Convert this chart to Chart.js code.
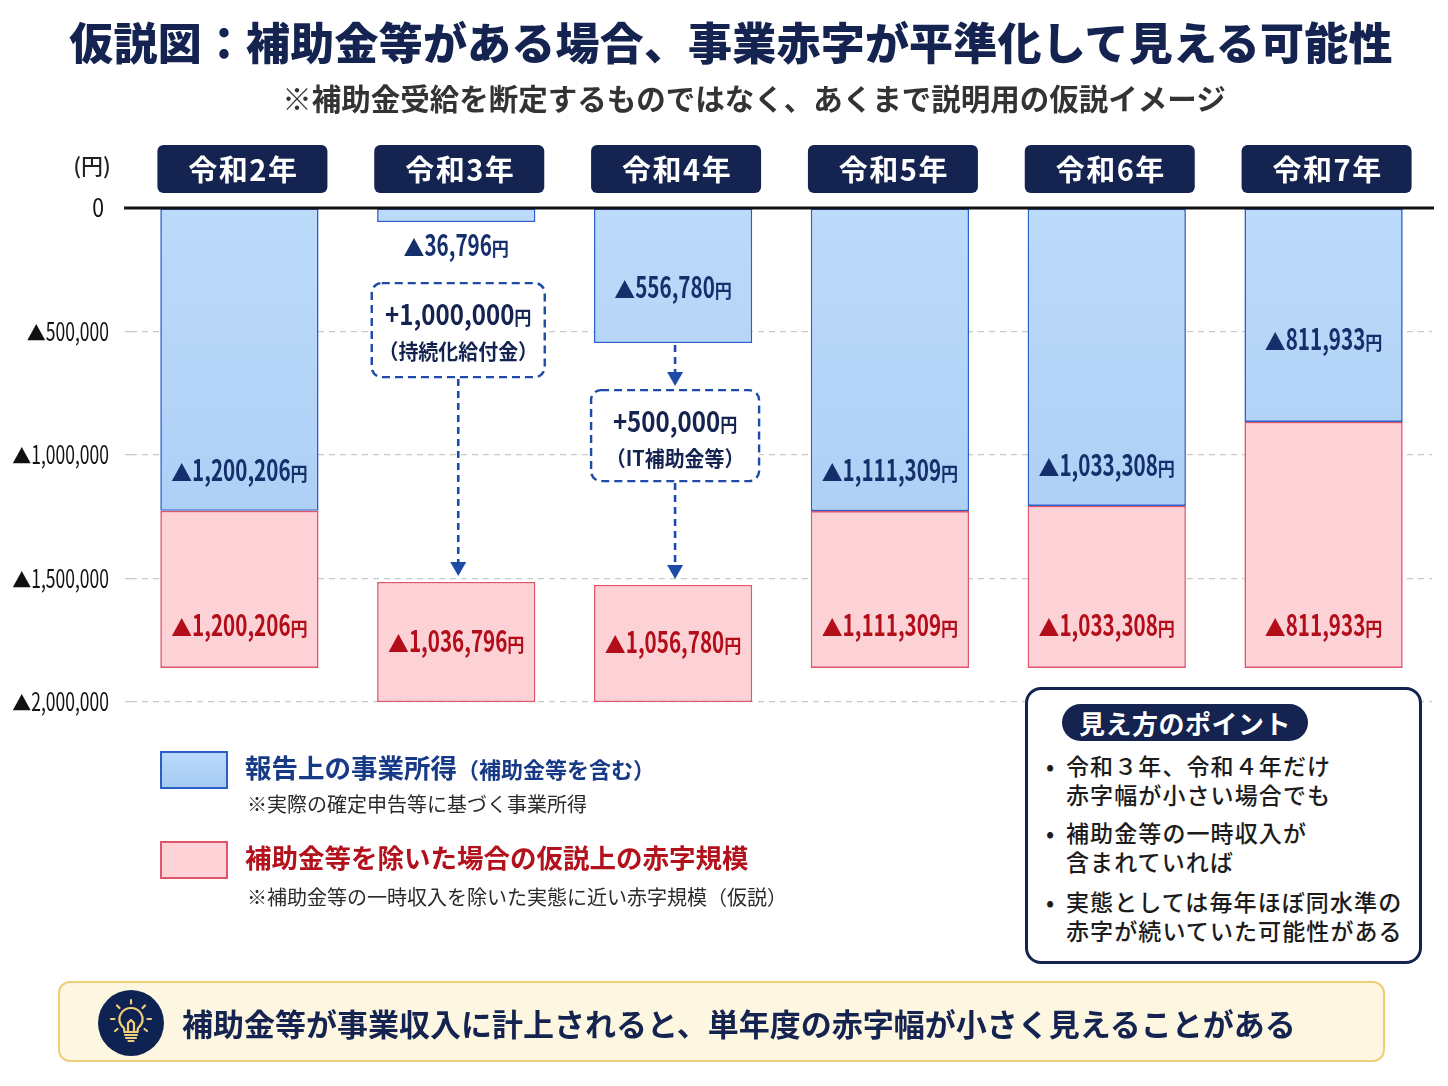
<!DOCTYPE html>
<html lang="ja">
<head>
<meta charset="utf-8">
<title>仮説図：補助金等がある場合、事業赤字が平準化して見える可能性</title>
<script src="https://cdn.jsdelivr.net/npm/chart.js@4.4.1/dist/chart.umd.min.js"></script>
<style>
html, body { margin: 0; padding: 0; background: #fff; }
body { width: 1448px; height: 1086px; position: relative; overflow: hidden;
       font-family: "Noto Sans CJK JP", "Noto Sans", sans-serif; }
#chart { position: absolute; left: 0; top: 0; }
.abs { position: absolute; white-space: nowrap; }
#title { left: 0; width: 1462px; text-align: center; top: 10px; font-size: 44px; font-weight: 900;
         color: #14234f; line-height: 62px; letter-spacing: 0.2px; }
#subtitle { left: 0; width: 1508px; text-align: center; top: 76px; font-size: 29.5px; font-weight: 700;
            color: #333; line-height: 42px; }
.swatch { position: absolute; left: 160px; width: 64px; height: 34px; }
#swBlue { top: 751px; background: linear-gradient(#b9d9fa, #a6cbf4); border: 2px solid #2b5fc6; }
#swRed { top: 841px; background: #fdd3d8; border: 2px solid #e0566a; }
.legMain { left: 245px; font-size: 26.5px; font-weight: 700; line-height: 36px; }
.legSub { font-size: 22px; }
.legNote { left: 247px; font-size: 20px; color: #2a2a2a; line-height: 28px; }
#points { left: 1025px; top: 687px; width: 391px; height: 271px; border: 3px solid #14234f;
          border-radius: 16px; background: #fff; }
#pill { position: absolute; left: 34px; top: 14px; width: 246px; height: 37px; border-radius: 19px;
        background: #14234f; color: #fff; font-size: 26px; font-weight: 700; text-align: center;
        line-height: 37px; letter-spacing: 0.5px; }
.bullet { position: absolute; left: 38px; font-size: 23px; font-weight: 500; color: #1c1c1c;
          line-height: 29px; letter-spacing: 1.1px; }
.bullet::before { content: "•"; position: absolute; left: -20px; top: 0; }
#banner { left: 58px; top: 981px; width: 1323px; height: 77px; border: 2px solid #f0cd78;
          border-radius: 12px; background: #fdf7e1; }
#bannerText { position: absolute; left: 122px; top: 0; line-height: 79px; font-size: 31px;
              font-weight: 700; color: #14234f; }
#bulb { position: absolute; left: 38px; top: 7px; }
</style>
</head>
<body>
<canvas id="chart" width="1448" height="1086"></canvas>

<div id="title" class="abs">仮説図：補助金等がある場合、事業赤字が平準化して見える可能性</div>
<div id="subtitle" class="abs">※補助金受給を断定するものではなく、あくまで説明用の仮説イメージ</div>

<div id="swBlue" class="swatch"></div>
<div class="abs legMain" style="top:749px;color:#173a86;">報告上の事業所得<span class="legSub">（補助金等を含む）</span></div>
<div class="abs legNote" style="top:790px;">※実際の確定申告等に基づく事業所得</div>
<div id="swRed" class="swatch"></div>
<div class="abs legMain" style="top:839px;color:#b3121c;">補助金等を除いた場合の仮説上の赤字規模</div>
<div class="abs legNote" style="top:883px;">※補助金等の一時収入を除いた実態に近い赤字規模（仮説）</div>

<div id="points" class="abs">
  <div id="pill">見え方のポイント</div>
  <div class="bullet" style="top:61px;">令和３年、令和４年だけ<br>赤字幅が小さい場合でも</div>
  <div class="bullet" style="top:128px;">補助金等の一時収入が<br>含まれていれば</div>
  <div class="bullet" style="top:197px;">実態としては毎年ほぼ同水準の<br>赤字が続いていた可能性がある</div>
</div>

<div id="banner" class="abs">
  <svg id="bulb" width="66" height="66" viewBox="0 0 66 66">
    <circle cx="33" cy="33" r="33" fill="#0f2352"/>
    <g fill="none" stroke="#f2cf7a" stroke-width="2.2" stroke-linecap="round" stroke-linejoin="round">
      <path d="M26 38 C21 34 20 28 23 23.5 C26 19 31 18 33 18 C35 18 40 19 43 23.5 C46 28 45 34 40 38 L39.5 42 L26.5 42 Z"/>
      <path d="M27 45 L39 45 M28 48 L38 48 M30.5 51 L35.5 51"/>
      <path d="M30 42 L30 33 L33 30 L36 33 L36 42"/>
      <path d="M33 10 L33 13.5 M19 15.5 L21.5 18 M47 15.5 L44.5 18 M13 29 L16.5 29 M53 29 L49.5 29 M17 41 L19.5 39 M49 41 L46.5 39"/>
    </g>
  </svg>
  <div id="bannerText">補助金等が事業収入に計上されると、単年度の赤字幅が小さく見えることがある</div>
</div>

<script>
// Years shown in the header boxes
const years = ['令和2年', '令和3年', '令和4年', '令和5年', '令和6年', '令和7年'];

// Amounts printed on the bars (yen)
const reportedLoss = [1200206, 36796, 556780, 1111309, 1033308, 811933];
const hypotheticalLoss = [1200206, 1036796, 1056780, 1111309, 1033308, 811933];

// Extents as drawn in the picture (yen, negative = deficit)
const blueBarEnd = [-1226000, -57000, -547000, -1227000, -1206000, -866000];
const redBarTop = [-1226000, -1514000, -1526000, -1227000, -1206000, -866000];
const redBarBottom = [-1862000, -2000000, -2000000, -1862000, -1862000, -1862000];

// Subsidy notes (index into years)
const subsidyYears = [1, 2];
const subsidyAmounts = ['+1,000,000', '+500,000'];
const subsidyNames = ['（持続化給付金）', '（IT補助金等）'];

// Y axis
const yMin = -2000000;
const yMax = 0;
const yStep = 500000;

const NAVY = '#14234f';
const LABEL_BLUE = '#142f6b';
const LABEL_RED = '#b20d18';
const ARROW = '#1e4aa8';
const JP = '"Noto Sans CJK JP", "Noto Sans", sans-serif';

function fmt(v) {
    return Math.abs(v).toString().replace(/\B(?=(\d{3})+(?!\d))/g, ',');
}

/**
 * Draw a row of text pieces, each with its own font and horizontal squeeze
 */
function drawPieces(ctx, parts, cx, baseline, align) {
    let total = 0;
    parts.forEach(p => {
        ctx.font = p.font;
        p.w = ctx.measureText(p.text).width * p.scale;
        total += p.w;
    });
    let x = align === 'right' ? cx - total : cx - total / 2;
    parts.forEach(p => {
        ctx.save();
        ctx.font = p.font;
        ctx.fillStyle = p.color;
        ctx.textAlign = 'left';
        ctx.textBaseline = 'alphabetic';
        ctx.translate(x, baseline + (p.dy || 0));
        ctx.scale(p.scale, 1);
        ctx.fillText(p.text, 0, 0);
        ctx.restore();
        x += p.w;
    });
}

function amountLabel(ctx, value, cx, cy, color) {
    drawPieces(ctx, [
        { text: '▲', font: '400 22px ' + JP, scale: 0.95, color: color },
        { text: fmt(value), font: '700 29px ' + JP, scale: 0.71, color: color },
        { text: '円', font: '700 19px ' + JP, scale: 0.9, color: color }
    ], cx, cy + 10);
}

function roundRect(ctx, x, y, w, h, r) {
    ctx.beginPath();
    ctx.moveTo(x + r, y);
    ctx.arcTo(x + w, y, x + w, y + h, r);
    ctx.arcTo(x + w, y + h, x, y + h, r);
    ctx.arcTo(x, y + h, x, y, r);
    ctx.arcTo(x, y, x + w, y, r);
    ctx.closePath();
}

function dashedArrow(ctx, x, y1, y2) {
    ctx.save();
    ctx.strokeStyle = ARROW;
    ctx.fillStyle = ARROW;
    ctx.lineWidth = 2.6;
    ctx.setLineDash([7, 5]);
    ctx.beginPath();
    ctx.moveTo(x, y1);
    ctx.lineTo(x, y2 - 12);
    ctx.stroke();
    ctx.setLineDash([]);
    ctx.beginPath();
    ctx.moveTo(x - 8, y2 - 14);
    ctx.lineTo(x + 8, y2 - 14);
    ctx.lineTo(x, y2);
    ctx.closePath();
    ctx.fill();
    ctx.restore();
}

const decorations = {
    id: 'decorations',
    afterDatasetsDraw(chart) {
        const { ctx, chartArea, scales } = chart;
        const yScale = scales.y;
        const blueMeta = chart.getDatasetMeta(0);
        const redMeta = chart.getDatasetMeta(1);
        const zeroY = yScale.getPixelForValue(0);

        // zero line
        ctx.save();
        ctx.strokeStyle = '#111';
        ctx.lineWidth = 3;
        ctx.beginPath();
        ctx.moveTo(chartArea.left - 7, zeroY);
        ctx.lineTo(chartArea.right + 2, zeroY);
        ctx.stroke();
        ctx.restore();

        // y tick labels
        yScale.ticks.forEach(t => {
            const py = yScale.getPixelForValue(t.value);
            if (t.value === 0) {
                drawPieces(ctx, [{ text: '0', font: '400 25px ' + JP, scale: 0.85, color: '#111' }], 104, py + 9, 'right');
            } else {
                drawPieces(ctx, [
                    { text: '▲', font: '400 20px ' + JP, scale: 0.95, color: '#111' },
                    { text: fmt(t.value), font: '400 25px ' + JP, scale: 0.7, color: '#111' }
                ], 109, py + 9, 'right');
            }
        });
        ctx.save();
        ctx.font = '500 22px ' + JP;
        ctx.fillStyle = '#222';
        ctx.textAlign = 'center';
        ctx.textBaseline = 'middle';
        ctx.fillText('(円)', 92, zeroY - 42);
        ctx.restore();

        years.forEach((yr, i) => {
            const blue = blueMeta.data[i];
            const red = redMeta.data[i];
            const cx = blue.x;

            // header box
            const bw = 170;
            ctx.save();
            ctx.fillStyle = NAVY;
            roundRect(ctx, cx - bw / 2 + 3, zeroY - 63, bw, 48, 6);
            ctx.fill();
            ctx.fillStyle = '#fff';
            ctx.font = '700 29px ' + JP;
            ctx.letterSpacing = '1.5px';
            ctx.textAlign = 'center';
            ctx.textBaseline = 'middle';
            ctx.fillText(yr, cx + 4, zeroY - 38);
            ctx.restore();

            // blue label
            const bTop = Math.min(blue.y, blue.base);
            const bBot = Math.max(blue.y, blue.base);
            const bH = bBot - bTop;
            let by;
            if (bH < 40) by = bBot + 24;
            else if (bH < 250) by = (bTop + bBot) / 2 + (bH > 180 ? 25 : 12);
            else by = bBot - 40;
            amountLabel(ctx, reportedLoss[i], cx, by, LABEL_BLUE);

            // red label
            const rTop = Math.min(red.y, red.base);
            const rBot = Math.max(red.y, red.base);
            const ry = (rBot - rTop) < 140 ? (rTop + rBot) / 2 : rBot - 42;
            amountLabel(ctx, hypotheticalLoss[i], cx, ry, LABEL_RED);
        });

        // subsidy notes
        subsidyYears.forEach((idx, k) => {
            const blue = blueMeta.data[idx];
            const red = redMeta.data[idx];
            const cx = blue.x + 2;
            const bBot = Math.max(blue.y, blue.base);
            const rTop = Math.min(red.y, red.base);
            const w = k === 0 ? 173 : 168;
            const h = k === 0 ? 94 : 91;
            const top = k === 0 ? bBot + 61 : bBot + 47;

            if (k === 1) dashedArrow(ctx, cx, bBot + 2, top - 4);

            ctx.save();
            ctx.fillStyle = '#fff';
            ctx.strokeStyle = ARROW;
            ctx.lineWidth = 2.4;
            ctx.setLineDash([8, 5]);
            roundRect(ctx, cx - w / 2, top, w, h, 10);
            ctx.fill();
            ctx.stroke();
            ctx.restore();

            drawPieces(ctx, [
                { text: subsidyAmounts[k], font: '700 28px ' + JP, scale: 0.86, color: NAVY },
                { text: '円', font: '700 19px ' + JP, scale: 0.9, color: NAVY }
            ], cx, top + 42);
            drawPieces(ctx, [
                { text: subsidyNames[k], font: '700 21px ' + JP, scale: 0.95, color: NAVY }
            ], cx, top + 76);

            dashedArrow(ctx, cx, top + h + 2, rTop - 6);
        });
    }
};

function blueFill(context) {
    const { chart } = context;
    const area = chart.chartArea;
    if (!area) return '#b3d4f7';
    const g = chart.ctx.createLinearGradient(0, area.top, 0, area.bottom);
    g.addColorStop(0, '#bcdafa');
    g.addColorStop(1, '#a5caf3');
    return g;
}

new Chart(document.getElementById('chart'), {
    type: 'bar',
    data: {
        labels: years,
        datasets: [
            {
                label: '報告上の事業所得（補助金等を含む）',
                data: blueBarEnd,
                backgroundColor: blueFill,
                borderColor: '#2b5fc6',
                borderWidth: 1.6,
                borderSkipped: false,
                order: 1
            },
            {
                label: '補助金等を除いた場合の仮説上の赤字規模',
                data: redBarTop.map((t, i) => [t, redBarBottom[i]]),
                backgroundColor: '#fdd2d7',
                borderColor: '#e0566a',
                borderWidth: 1.6,
                borderSkipped: false,
                order: 2
            }
        ]
    },
    options: {
        responsive: false,
        devicePixelRatio: 1,
        animation: false,
        grouped: false,
        categoryPercentage: 0.73,
        barPercentage: 1,
        layout: { padding: { top: 208, bottom: 384, left: 0, right: 16 } },
        plugins: {
            legend: { display: false },
            tooltip: { enabled: false }
        },
        scales: {
            x: { display: false, grid: { display: false } },
            y: {
                min: yMin,
                max: yMax,
                ticks: {
                    stepSize: yStep,
                    display: false,
                    callback: v => (v === 0 ? '0' : '▲' + fmt(v))
                },
                grid: {
                    color: c => (c.tick && c.tick.value === 0 ? 'rgba(0,0,0,0)' : '#c9c9c9'),
                    lineWidth: 1.3,
                    drawTicks: true,
                    tickLength: 6,
                    tickBorderDash: [6, 5]
                },
                border: { display: false, dash: [6, 5] },
                afterFit: scale => { scale.width = 131; }
            }
        }
    },
    plugins: [decorations]
});
</script>
</body>
</html>
